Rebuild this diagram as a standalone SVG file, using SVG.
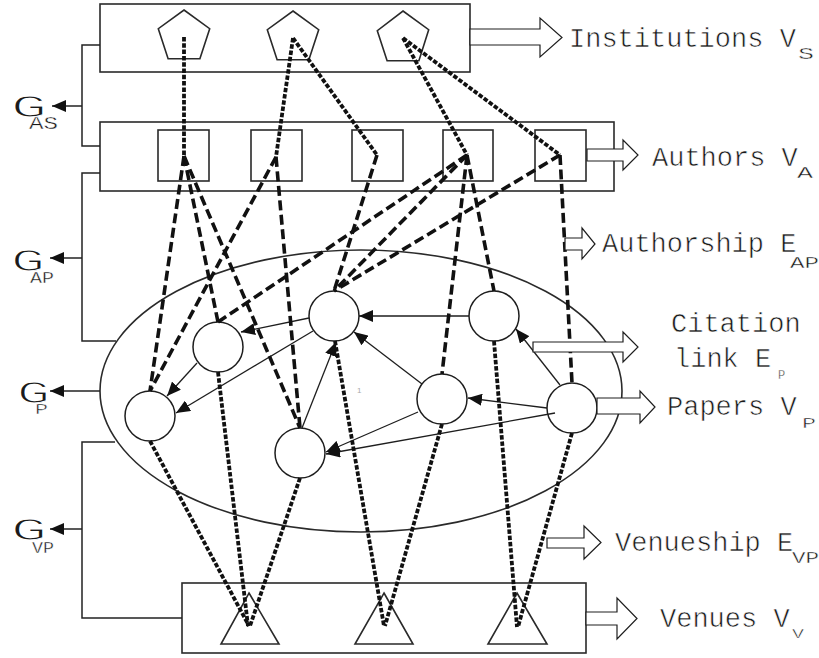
<svg xmlns="http://www.w3.org/2000/svg" width="819" height="658" viewBox="0 0 819 658">
<defs>
<style>
.ln{fill:none;stroke:#222;stroke-width:1.5}
.nd{fill:none;stroke:#2a2a2a;stroke-width:1.6}
.pp{fill:#fff;stroke:#1e1e1e;stroke-width:1.5}
.cit{fill:none;stroke:#1e1e1e;stroke-width:1.3;marker-end:url(#ah)}
.auth{fill:none;stroke:#111;stroke-width:3.6;stroke-dasharray:10 4.5}
.dot{fill:none;stroke:#111;stroke-width:3.8;stroke-dasharray:4.5 1.8}
.ha{fill:#fff;stroke:#1e1e1e;stroke-width:1.2}
.t,.s,.g{font-family:"Liberation Mono","Courier New",monospace;fill:#1a1a1a;stroke:#fff;paint-order:fill}
.t{font-size:27px;stroke-width:0.6}
.s{font-size:17px;stroke-width:0.4}
.g{font-size:32px;stroke-width:1.1}
</style>
<marker id="ah" viewBox="0 0 14 12" refX="14" refY="6" markerWidth="14" markerHeight="12" orient="auto" markerUnits="userSpaceOnUse"><path d="M0,0 L14,6 L0,12 z" fill="#111"/></marker>
</defs>
<rect width="819" height="658" fill="#fff"/>

<g id="papers-ellipse"><ellipse class="nd" cx="361" cy="391" rx="261" ry="141"/></g>
<g id="institutions-box">
<rect class="nd" x="100" y="4" width="370" height="68"/>
<polygon class="nd" points="184,10 209.7,28.7 199.9,58.8 168.1,58.8 158.3,28.7"/>
<polygon class="nd" points="293,11 318.7,29.7 308.9,59.8 277.1,59.8 267.3,29.7"/>
<polygon class="nd" points="403,11 428.7,29.7 418.9,60.8 387.1,60.8 377.3,30.7"/>
</g>
<g id="authors-box">
<rect class="nd" x="100" y="122" width="514" height="69"/>
<rect class="nd" x="158" y="130" width="51" height="51"/>
<rect class="nd" x="251" y="130" width="51" height="51"/>
<rect class="nd" x="352" y="130" width="51" height="51"/>
<rect class="nd" x="443" y="130" width="50" height="51"/>
<rect class="nd" x="535" y="130" width="51" height="51"/>
</g>
<g id="venues-box">
<rect class="nd" x="182" y="583" width="404" height="70"/>
<polygon class="nd" points="249,593 279,644 221,644"/>
<polygon class="nd" points="384,593 413,644 355,644"/>
<polygon class="nd" points="517,593 547,644 488,644"/>
</g>
<g id="paper-nodes">
<circle class="pp" cx="150" cy="416" r="25"/>
<circle class="pp" cx="218" cy="347" r="25"/>
<circle class="pp" cx="334" cy="316" r="25"/>
<circle class="pp" cx="300" cy="453" r="25"/>
<circle class="pp" cx="442" cy="399" r="25"/>
<circle class="pp" cx="494" cy="316" r="25"/>
<circle class="pp" cx="572" cy="408" r="25"/>
</g>

<g id="connectors">
<!-- brackets -->
<path class="ln" d="M100,45 H82 V146 H100"/>
<path class="ln" d="M100,173 H82 V341 H116"/>
<path class="ln" d="M115,442 H82 V618 H182"/>
<path class="ln" d="M82,106 H52" marker-end="url(#ah)"/>
<path class="ln" d="M82,258 H50" marker-end="url(#ah)"/>
<path class="ln" d="M100,391 H50" marker-end="url(#ah)"/>
<path class="ln" d="M82,529 H50" marker-end="url(#ah)"/>
<!-- citation links -->
<line class="cit" x1="469" y1="316" x2="359" y2="316"/>
<line class="cit" x1="309" y1="318" x2="241" y2="332"/>
<line class="cit" x1="313" y1="331" x2="176" y2="413"/>
<line class="cit" x1="197" y1="363" x2="167" y2="396"/>
<line class="cit" x1="302" y1="428" x2="336" y2="342"/>
<line class="cit" x1="422" y1="384" x2="354" y2="332"/>
<line class="cit" x1="418" y1="412" x2="326" y2="452"/>
<line class="cit" x1="547" y1="408" x2="468" y2="398"/>
<line class="cit" x1="555" y1="413" x2="326" y2="454"/>
<line class="cit" x1="560" y1="385" x2="516" y2="329"/>
<!-- institution links -->
<line class="dot" x1="184" y1="37" x2="184" y2="156"/>
<line class="dot" x1="293" y1="38" x2="276" y2="157"/>
<line class="dot" x1="293" y1="38" x2="377" y2="155"/>
<line class="dot" x1="403" y1="38" x2="467" y2="155"/>
<line class="dot" x1="403" y1="38" x2="560" y2="155"/>
<!-- authorship links -->
<line class="auth" x1="184" y1="156" x2="150" y2="391"/>
<line class="auth" x1="184" y1="156" x2="218" y2="322"/>
<line class="auth" x1="184" y1="156" x2="300" y2="428"/>
<line class="auth" x1="276" y1="157" x2="150" y2="391"/>
<line class="auth" x1="276" y1="157" x2="300" y2="428"/>
<line class="auth" x1="377" y1="155" x2="334" y2="291"/>
<line class="auth" x1="467" y1="155" x2="218" y2="322"/>
<line class="auth" x1="467" y1="155" x2="334" y2="291"/>
<line class="auth" x1="467" y1="155" x2="442" y2="374"/>
<line class="auth" x1="467" y1="155" x2="494" y2="291"/>
<line class="auth" x1="560" y1="155" x2="334" y2="291"/>
<line class="auth" x1="560" y1="155" x2="572" y2="383"/>
<!-- venueship links -->
<line class="dot" x1="150" y1="441" x2="249" y2="626"/>
<line class="dot" x1="218" y1="372" x2="248" y2="626"/>
<line class="dot" x1="300" y1="478" x2="250" y2="626"/>
<line class="dot" x1="335" y1="341" x2="384" y2="626"/>
<line class="dot" x1="442" y1="424" x2="385" y2="626"/>
<line class="dot" x1="494" y1="341" x2="517" y2="627"/>
<line class="dot" x1="572" y1="433" x2="518" y2="627"/>
</g>

<g id="legend-arrows">
<path class="ha" d="M470,29 H540 V18 L562,37.5 L540,57 V45 H470 Z"/>
<path class="ha" d="M587,149 H623 V140 L638,155 L623,170 V161 H587 Z"/>
<path class="ha" d="M565,238 H582 V228 L595,244 L582,259 V250 H565 Z"/>
<path class="ha" d="M533,342 H623 V332 L638,347 L623,362 V352 H533 Z"/>
<path class="ha" d="M597,398 H640 V391 L655,407 L640,423 V414 H597 Z"/>
<path class="ha" d="M547,538 H584 V526 L601,542.5 L584,559 V548 H547 Z"/>
<path class="ha" d="M586,612 H617 V598 L637,618.5 L617,639 V625 H586 Z"/>
</g>

<g id="labels">
<text class="t" x="569" y="47">Institutions V</text><text class="s" x="798" y="59" textLength="16" lengthAdjust="spacingAndGlyphs">S</text>
<text class="t" x="652" y="166">Authors V</text><text class="s" x="797" y="178" textLength="16" lengthAdjust="spacingAndGlyphs">A</text>
<text class="t" x="602" y="252">Authorship E</text><text class="s" x="790" y="268" textLength="29" lengthAdjust="spacingAndGlyphs">AP</text>
<text class="t" x="671" y="332">Citation</text>
<text class="t" x="674" y="367">link E</text><text class="s" x="778" y="379" style="font-size:12px">P</text>
<text class="t" x="667" y="415">Papers V</text><text class="s" x="802" y="428" style="font-size:14px" textLength="14" lengthAdjust="spacingAndGlyphs">P</text>
<text class="t" x="615" y="551">Venueship E</text><text class="s" x="792" y="563" textLength="27" lengthAdjust="spacingAndGlyphs">VP</text>
<text class="t" x="660" y="627">Venues V</text><text class="s" x="792" y="638" style="font-size:12px" textLength="12" lengthAdjust="spacingAndGlyphs">V</text>

<text class="g" x="11" y="117" textLength="36" lengthAdjust="spacingAndGlyphs">G</text><text class="s" x="29" y="129" style="font-size:19px" textLength="29" lengthAdjust="spacingAndGlyphs">AS</text>
<text class="g" x="11" y="271" textLength="34" lengthAdjust="spacingAndGlyphs">G</text><text class="s" x="30" y="283" textLength="24" lengthAdjust="spacingAndGlyphs">AP</text>
<text class="g" x="17" y="403" textLength="33" lengthAdjust="spacingAndGlyphs">G</text><text class="s" x="35" y="414" style="font-size:14px" textLength="13" lengthAdjust="spacingAndGlyphs">P</text>
<text class="g" x="11" y="540" textLength="36" lengthAdjust="spacingAndGlyphs">G</text><text class="s" x="32" y="553" textLength="22" lengthAdjust="spacingAndGlyphs">VP</text>
<text x="357" y="393" style="font-family:'Liberation Sans',sans-serif;font-size:8px;fill:#aaa">1</text>
</g>
</svg>
